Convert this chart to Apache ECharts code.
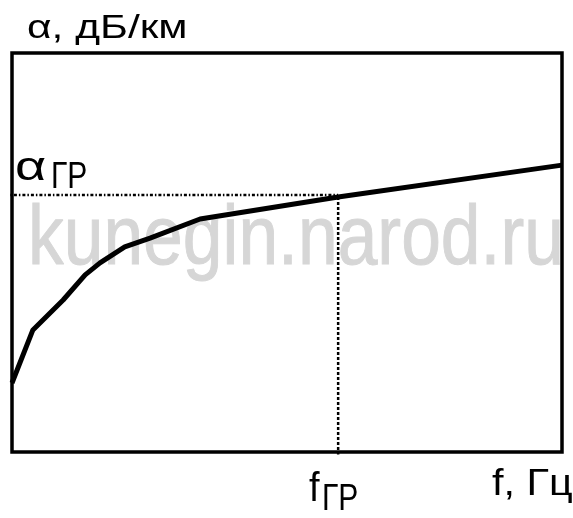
<!DOCTYPE html>
<html><head><meta charset="utf-8">
<script src="https://cdn.jsdelivr.net/npm/echarts@6/dist/echarts.min.js"></script>
<style>html,body{margin:0;padding:0;background:#fff}#c{width:573px;height:518px}</style>
</head><body><div id="c"></div>
<script>
// Attenuation curve (relative units)
var freqX = [0, 3.8, 9.3, 13.3, 16, 20.5, 25.1, 34.2, 59.3, 100];
var alphaY = [17.3, 30.6, 38.1, 44.4, 47.4, 51.4, 53.6, 58.4, 63.9, 71.9];
var fGr = 59.3;
var alphaGr = 64.4;
var xLabel = "f, Гц";
var yLabel = "α, дБ/км";
var watermark = "kunegin.narod.ru";

var chart = echarts.init(document.getElementById('c'));
var FONT = 'Liberation Sans, Arial, sans-serif';
chart.setOption({
  animation: false,
  backgroundColor: '#fff',
  grid: {left: 12, top: 53, right: 11, bottom: 66, show: true, borderColor: '#000', borderWidth: 3.5, backgroundColor: 'transparent'},
  xAxis: {type: 'value', min: 0, max: 100, axisLine: {show: false}, axisTick: {show: false}, axisLabel: {show: false}, splitLine: {show: false}},
  yAxis: {type: 'value', min: 0, max: 100, axisLine: {show: false}, axisTick: {show: false}, axisLabel: {show: false}, splitLine: {show: false}},
  graphic: [
    {type: 'text', x: 28, y: 199, z: -10, scaleX: 0.85, style: {text: watermark, fill: '#d6d6d6', stroke: '#d6d6d6', lineWidth: 1, font: '84px ' + FONT}},
    {type: 'text', x: 27, y: 12, scaleX: 1.25, style: {text: yLabel, fill: '#000', font: '34px ' + FONT}},
    {type: 'text', x: 15, y: 149, scaleX: 1.35, style: {text: 'α', fill: '#000', font: '40px ' + FONT}},
    {type: 'text', x: 51, y: 160, scaleY: 1.2, style: {text: 'ГР', fill: '#000', font: '30px ' + FONT}},
    {type: 'text', x: 309, y: 470, scaleY: 1.05, style: {text: 'f', fill: '#000', font: '38px ' + FONT}},
    {type: 'text', x: 322, y: 482, scaleY: 1.2, style: {text: 'ГР', fill: '#000', font: '30px ' + FONT}},
    {type: 'text', x: 492, y: 467, scaleX: 1.15, style: {text: xLabel, fill: '#000', font: '36px ' + FONT}}
  ],
  series: [
    {type: 'line', z: 3, symbol: 'none', clip: false, lineStyle: {color: '#000', width: 5},
     data: freqX.map(function (x, i) { return [x, alphaY[i]]; })},
    {type: 'line', z: 2, symbol: 'none', clip: false, lineStyle: {color: '#000', width: 2.5, type: [3, 2, 1.5, 2]},
     data: [[-1.2, alphaGr], [fGr, alphaGr]]},
    {type: 'line', z: 2, symbol: 'none', clip: false, lineStyle: {color: '#000', width: 2.5, type: [3, 2]},
     data: [[fGr, alphaGr - 0.5], [fGr, -0.6]]}
  ]
});
</script></body></html>
